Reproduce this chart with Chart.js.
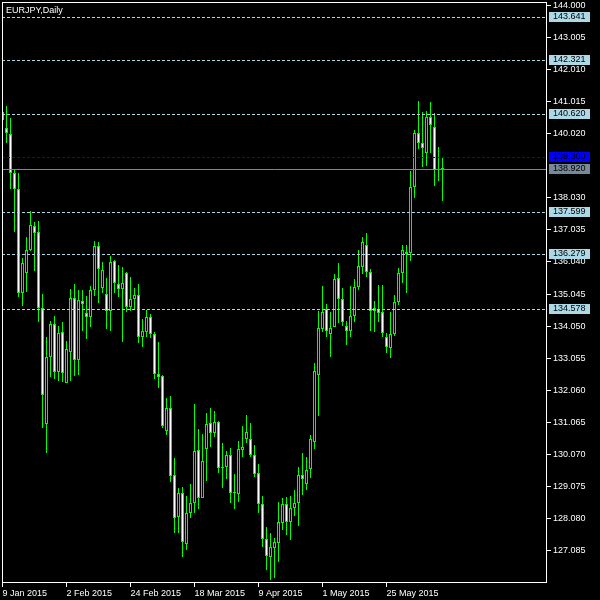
<!DOCTYPE html>
<html><head><meta charset="utf-8">
<script src="https://cdn.jsdelivr.net/npm/chart.js@4.4.0/dist/chart.umd.min.js"></script>
<style>html,body{margin:0;padding:0;background:#000;}canvas{display:block;}</style>
</head><body>
<canvas id="c" width="600" height="600"></canvas>
<script>
const chartTitle = 'EURJPY,Daily';
const xTickIndex = [0, 16, 32, 48, 64, 80, 96];
const xTickLabels = ['9 Jan 2015', '2 Feb 2015', '24 Feb 2015', '18 Mar 2015', '9 Apr 2015', '1 May 2015', '25 May 2015'];
const yTickValues = [144.000, 143.005, 142.010, 141.015, 140.020, 138.030, 137.035, 136.040, 135.045, 134.050, 133.055, 132.060, 131.065, 130.070, 129.075, 128.080, 127.085];
const levelPrices = [143.641, 142.321, 140.620, 137.599, 136.279, 134.578];
const markerPrice = 139.300;
const bidPrice = 138.920;

const opens = [140.45,140.20,140.02,138.80,138.31,135.08,135.70,136.41,137.17,136.97,
134.61,131.01,133.09,134.12,132.62,133.87,132.28,133.25,134.92,133.00,
134.83,134.46,134.33,135.17,136.54,135.23,135.05,134.52,136.07,135.36,
135.20,135.70,134.64,134.89,135.02,133.71,133.87,134.33,133.80,132.56,
132.50,130.79,131.51,129.43,128.12,128.87,127.28,128.25,128.56,130.20,
128.71,130.23,131.04,130.73,131.07,129.64,129.67,130.05,128.90,128.84,
130.20,130.54,130.54,130.05,129.49,128.53,127.44,126.88,127.16,127.31,
127.94,128.53,127.97,128.40,128.56,129.43,129.15,129.61,130.45,132.53,
133.96,134.58,133.80,134.02,135.54,134.89,134.05,133.90,134.36,135.26,
135.89,136.57,135.73,134.52,134.58,134.49,133.71,133.37,133.80,134.80,
135.70,136.35,136.32,138.37,140.05,139.74,139.43,140.54,140.23,138.90,
138.93];
const highs = [140.79,140.89,140.52,138.90,138.81,136.17,136.82,137.62,137.28,137.31,
135.05,133.71,134.21,134.36,134.05,134.18,133.59,135.20,135.36,135.17,
135.17,134.98,135.30,136.69,136.66,136.04,135.54,136.23,136.10,135.95,
135.89,135.72,135.57,135.23,135.36,134.27,134.55,134.43,133.87,133.56,
132.53,131.82,131.88,129.95,129.02,129.05,128.77,129.15,131.63,130.85,
130.70,131.35,131.51,131.41,131.10,130.42,130.17,130.26,129.46,130.48,
130.95,131.29,131.04,130.36,129.77,128.77,127.81,127.62,127.47,128.59,
128.71,128.74,128.77,128.96,129.67,130.11,129.98,130.67,132.90,134.52,
135.30,134.74,134.49,135.67,136.01,135.23,134.21,135.30,135.51,136.41,
136.82,136.94,135.82,134.83,135.33,135.33,133.84,134.49,135.02,135.85,
136.57,136.57,138.87,140.14,141.04,140.70,140.73,141.01,140.67,139.61,
139.30];
const lows = [140.33,139.74,138.31,136.97,134.96,134.67,135.11,136.38,135.76,134.18,
130.89,130.11,132.47,132.41,132.35,132.31,132.28,132.35,132.50,132.53,
133.90,133.65,134.02,134.98,134.77,135.08,133.96,133.90,135.08,134.95,
133.56,134.49,134.52,134.58,133.53,133.40,133.71,133.68,132.41,132.13,
130.89,130.67,129.21,127.62,127.62,126.88,127.10,128.09,128.25,128.37,
128.70,129.24,130.30,130.61,129.49,129.02,129.30,128.56,128.37,128.59,
129.98,130.42,129.98,129.36,128.25,127.19,126.48,126.17,126.23,126.72,
127.72,127.56,127.41,128.15,127.84,128.80,128.96,129.33,130.23,131.26,
133.87,133.71,133.09,134.02,134.15,134.05,133.46,133.71,134.18,135.17,
135.67,135.57,133.90,133.87,134.18,133.71,133.21,133.06,133.74,134.71,
135.39,135.08,136.07,138.03,139.55,138.99,139.02,139.43,138.40,138.56,
137.94];
const closes = [140.70,140.05,138.80,138.31,135.08,136.01,136.41,137.19,136.93,134.61,
131.91,133.09,134.12,132.62,133.84,132.59,133.34,134.92,133.00,134.86,
134.74,134.33,135.17,136.54,135.82,135.79,134.52,136.04,135.39,135.20,
135.39,134.64,134.89,135.02,133.71,133.90,134.33,133.80,132.56,132.47,
130.95,131.51,129.39,128.09,128.87,127.35,128.25,128.56,130.17,128.71,
129.86,131.01,130.73,131.07,129.64,129.67,130.05,128.87,128.87,130.23,
130.30,130.76,130.05,129.46,128.53,127.44,126.91,127.19,127.35,127.97,
128.53,127.97,128.40,128.56,129.43,129.30,129.58,130.54,132.66,133.99,
134.49,133.90,133.99,135.51,134.89,134.18,133.90,134.36,135.26,135.92,
136.66,135.73,134.52,134.61,134.46,133.84,133.40,133.80,134.80,135.70,
136.41,136.29,138.37,140.05,139.74,139.58,140.54,140.30,138.90,138.93,
138.92];

const FONT = '"Liberation Sans", Arial, sans-serif';
const yMax = 144.109, yMin = 126.076;

const bodyData = opens.map((o, i) => ({x: i, y: [Math.min(o, closes[i]), Math.max(o, closes[i])]}));
const wickData = lows.map((l, i) => ({x: i, y: [l, highs[i]]}));
const bodyFill = opens.map((o, i) => closes[i] < o ? '#ffffff' : '#000000');

const mt4 = {
  id: 'mt4',
  beforeDraw(chart) {
    const c = chart.ctx; c.save(); c.fillStyle = '#000'; c.fillRect(0, 0, chart.width, chart.height); c.restore();
  },
  beforeDatasetsDraw(chart) {
    chart.getSortedVisibleDatasetMetas().forEach(m => m.data.forEach(el => {
      el.y = Math.round(el.y); el.base = Math.round(el.base);
    }));
  },
  afterDatasetsDraw(chart) {
    const c = chart.ctx, a = chart.chartArea, ys = chart.scales.y;
    c.save();
    c.beginPath(); c.rect(a.left, a.top, a.right - a.left, a.bottom - a.top); c.clip();
    c.lineWidth = 1;
    const hline = (p, color, dash) => {
      const y = Math.round(ys.getPixelForValue(p)) + 0.5;
      c.setLineDash(dash); c.strokeStyle = color;
      c.beginPath(); c.moveTo(a.left, y); c.lineTo(a.right, y); c.stroke();
    };
    levelPrices.forEach(p => hline(p, '#add8e6', [3, 2]));
    hline(markerPrice, '#0000ff', [3, 2]);
    hline(bidPrice, '#778899', []);
    c.restore();
  },
  afterDraw(chart) {
    const c = chart.ctx, a = chart.chartArea, ys = chart.scales.y;
    c.save();
    c.strokeStyle = '#ffffff'; c.lineWidth = 1; c.setLineDash([]);
    c.strokeRect(a.left + 0.5, a.top + 0.5, a.right - a.left - 1, a.bottom - a.top - 1);
    c.font = '9px ' + FONT; c.textBaseline = 'middle'; c.textAlign = 'left';
    const label = (p, bg, fg) => {
      const y = Math.round(ys.getPixelForValue(p));
      c.fillStyle = bg; c.fillRect(a.right + 2, y - 5, 41, 10);
      c.fillStyle = fg; c.fillText(p.toFixed(3), a.right + 6, y);
    };
    levelPrices.forEach(p => label(p, '#add8e6', '#000000'));
    label(markerPrice, '#0000ff', '#000000');
    label(bidPrice, '#778899', '#000000');
    c.fillStyle = '#ffffff'; c.textBaseline = 'alphabetic';
    c.fillText(chartTitle, a.left + 4, a.top + 11);
    c.restore();
  }
};

new Chart(document.getElementById('c'), {
  type: 'bar',
  data: {
    datasets: [
      {label: 'body', data: bodyData, backgroundColor: bodyFill, borderColor: '#00ff00', borderWidth: 1,
       borderSkipped: false, barThickness: 3, grouped: false, inflateAmount: 0, minBarLength: 1, order: 0, clip: 0},
      {label: 'wick', data: wickData, backgroundColor: '#00ff00', borderWidth: 0,
       barThickness: 1, grouped: false, inflateAmount: 0, order: 1, clip: 0}
    ]
  },
  options: {
    responsive: false, animation: false, devicePixelRatio: 1,
    layout: {padding: {left: 2, top: 2, right: 0, bottom: 0}},
    plugins: {legend: {display: false}, tooltip: {enabled: false}, title: {display: false}},
    scales: {
      x: {
        type: 'linear', position: 'bottom', min: -0.125, max: 136.125, offset: false, bounds: 'data',
        afterBuildTicks: s => { s.ticks = xTickIndex.map(v => ({value: v})); },
        afterFit: s => { s.height = 17; s.paddingLeft = 0; s.paddingRight = 0; s.paddingTop = 0; s.paddingBottom = 0; },
        grid: {drawOnChartArea: false, drawTicks: true, tickLength: 4, color: '#ffffff', lineWidth: 1, offset: false},
        border: {display: false},
        ticks: {color: '#ffffff', font: {family: FONT, size: 9}, padding: 1, align: 'start', autoSkip: false,
          maxRotation: 0, minRotation: 0,
          callback: v => { const k = xTickIndex.indexOf(v); return k < 0 ? '' : xTickLabels[k]; }}
      },
      y: {
        type: 'linear', position: 'right', min: yMin, max: yMax, beginAtZero: false, bounds: 'data',
        afterBuildTicks: s => { s.ticks = yTickValues.map(v => ({value: v})); },
        afterFit: s => { s.width = 53; s.paddingTop = 0; s.paddingBottom = 0; s.paddingLeft = 0; s.paddingRight = 0; },
        grid: {drawOnChartArea: false, drawTicks: true, tickLength: 4, color: '#ffffff', lineWidth: 1},
        border: {display: false},
        ticks: {color: '#ffffff', font: {family: FONT, size: 9}, padding: 2, autoSkip: false,
          callback: v => Number(v).toFixed(3)}
      }
    }
  },
  plugins: [mt4]
});
</script>
</body></html>
